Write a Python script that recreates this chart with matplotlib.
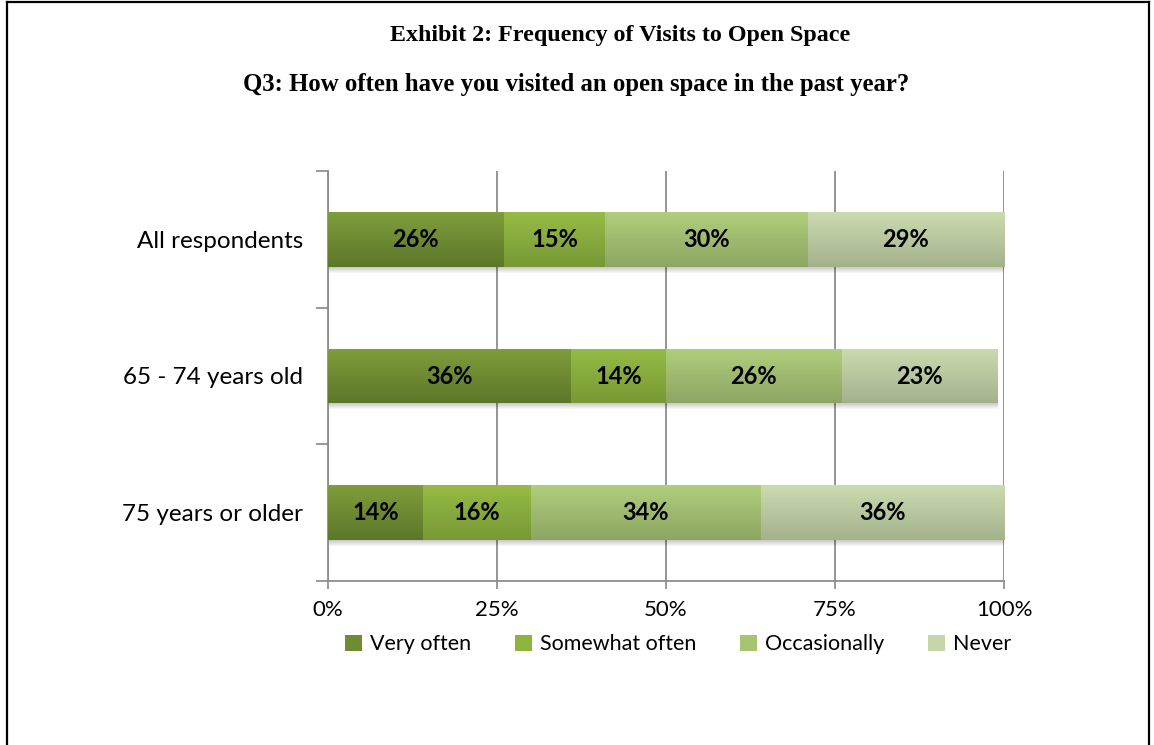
import numpy as np
import matplotlib
matplotlib.use('Agg')
import matplotlib.pyplot as plt
from matplotlib.colors import to_rgb
from matplotlib.lines import Line2D
from matplotlib.patches import Rectangle

groups = ['All respondents', '65 - 74 years old', '75 years or older']
answers = ['Very often', 'Somewhat often', 'Occasionally', 'Never']
very_often = [26, 36, 14]
somewhat_often = [15, 14, 16]
occasionally = [30, 26, 34]
never = [29, 23, 36]
x_ticks = [0, 25, 50, 75, 100]

# (top, bottom) colours of the shaded bar fills, plus a flat legend colour
shades = [('#7f9d3b', '#5d772a'),
          ('#96bc46', '#789834'),
          ('#b1ce7d', '#8da662'),
          ('#cbdbb0', '#a4b28c')]
flat = ['#6f8c32', '#8db53e', '#a8c472', '#c5d6a9']

label_font = 'Lato'
title_font = 'Liberation Serif'

fig = plt.figure(figsize=(11.54, 7.45), dpi=100)
ax = fig.add_axes([328 / 1154, 1 - 581 / 745, 676 / 1154, 410 / 745])

series = [very_often, somewhat_often, occasionally, never]
ypos = np.arange(len(groups))
h = 0.40
px = 1.0 / 136.5   # one pixel in y data units

left = np.zeros(len(groups))
for vals, (top_c, bot_c) in zip(series, shades):
    vals = np.asarray(vals, dtype=float)
    grad = np.linspace(0, 1, 64)[:, None, None]
    img = (1 - grad) * np.array(to_rgb(top_c)) + grad * np.array(to_rgb(bot_c))
    for i, (y, w, l) in enumerate(zip(ypos, vals, left)):
        # soft drop shadow under each segment
        for k in range(6):
            ax.add_patch(Rectangle((l + 0.15, y - h / 2 + (k + 1) * px),
                                   w, h, facecolor='black',
                                   alpha=0.035, lw=0, zorder=2))
        rect = Rectangle((l, y - h / 2), w, h, facecolor='none', lw=0,
                         zorder=3)
        ax.add_patch(rect)
        im = ax.imshow(img, extent=(l, l + w, y + h / 2, y - h / 2),
                       aspect='auto', interpolation='bilinear', zorder=3)
        im.set_clip_path(rect)
        ax.text(l + w / 2, y, f'{int(w)}%', ha='center', va='center',
                fontsize=17, fontweight='bold', family=label_font,
                color='black', zorder=5)
    left += vals

ax.set_xlim(0, 100)
ax.set_ylim(len(groups) - 0.5, -0.5)
ax.set_xticks(x_ticks)
ax.set_xticklabels([f'{t}%' for t in x_ticks], family=label_font, fontsize=16)
ax.set_yticks(ypos)
ax.set_yticklabels(groups, family=label_font, fontsize=17.5)
ax.set_yticks(np.arange(len(groups) + 1) - 0.5, minor=True)
ax.tick_params(axis='y', which='major', length=0, pad=18)
ax.tick_params(axis='y', which='minor', length=9, color='#888888', width=1.2)
ax.tick_params(axis='x', length=6, color='#888888', width=1.2, pad=8)

ax.grid(axis='x', color='#8c8c8c', lw=1.3, zorder=1)
ax.set_axisbelow(True)
for side in ['top', 'right']:
    ax.spines[side].set_visible(False)
for side in ['left', 'bottom']:
    ax.spines[side].set_color('#8c8c8c')
    ax.spines[side].set_linewidth(1.3)

handles = [Rectangle((0, 0), 1, 1, facecolor=c, lw=0) for c in flat]
fig.legend(handles, answers, loc='center', bbox_to_anchor=(0.5875, 0.135),
           ncol=4, frameon=False, handlelength=0.8, handleheight=0.8,
           handletextpad=0.35, columnspacing=2.05,
           prop={'family': label_font, 'size': 15.5})

fig.text(620 / 1154, 1 - 35 / 745,
         'Exhibit 2: Frequency of Visits to Open Space',
         ha='center', va='center', fontsize=17.3, fontweight='bold',
         family=title_font)
fig.text(576 / 1154, 1 - 85 / 745,
         'Q3: How often have you visited an open space in the past year?',
         ha='center', va='center', fontsize=17.8, fontweight='bold',
         family=title_font)

# page frame (open at the bottom)
for xs, ys in [([7 / 1154, 7 / 1154], [0, 1 - 2 / 745]),
               ([7 / 1154, 1149 / 1154], [1 - 2 / 745, 1 - 2 / 745]),
               ([1149 / 1154, 1149 / 1154], [0, 1 - 2 / 745])]:
    fig.add_artist(Line2D(xs, ys, color='black', lw=1.6))

fig.savefig('out.png', dpi=100)
